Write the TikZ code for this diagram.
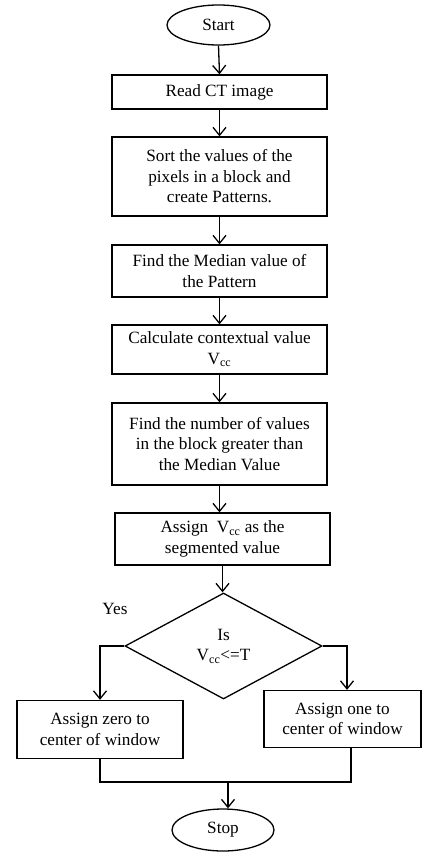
\documentclass[tikz,border=0pt]{standalone}
\usepackage{fontspec}
\setmainfont{Liberation Serif}
\usetikzlibrary{shapes.geometric,arrows.meta}
\begin{document}
\begin{tikzpicture}[x=1pt,y=-1pt,
  every node/.style={font=\fontsize{17.2}{20.5}\selectfont},
  box/.style={draw,line width=1.3pt,rectangle,inner sep=0pt,align=center},
  term/.style={draw,line width=1.3pt,ellipse,inner sep=0pt},
  dec/.style={draw,line width=1.3pt,diamond,inner sep=0pt,align=center},
  arr/.style={-{Straight Barb[length=8pt,width=13pt,line width=1.3pt]},line width=1.3pt},
  ln/.style={line width=1.3pt}]
\useasboundingbox (0,0) rectangle (422,854);
\fill[white] (0,0) rectangle (422,854);
\node[term,minimum width=103pt,minimum height=40pt] (start) at (218.5,25) {Start};
\node[box,minimum width=215pt,minimum height=34pt] (read) at (219.5,92) {Read CT image};
\node[box,minimum width=215pt,minimum height=79pt] (sort) at (219.5,176.5) {Sort the values of the\\pixels in a block and\\create Patterns.};
\node[box,minimum width=215pt,minimum height=52pt] (median) at (219.5,271) {Find the Median value of\\the Pattern};
\node[box,minimum width=215pt,minimum height=49pt] (calc) at (219.5,349.5) {Calculate contextual value\\V\textsubscript{cc}};
\node[box,minimum width=215pt,minimum height=82pt] (count) at (219.5,444) {Find the number of values\\in the block greater than\\the Median Value};
\node[box,minimum width=215pt,minimum height=52pt] (assign) at (222.5,539) {Assign\ \ V\textsubscript{cc} as the\\segmented value};
\node[dec,minimum width=197pt,minimum height=106pt] (test) at (223.5,646) {Is\\V\textsubscript{cc}<=T};
\node (yes) at (115,609) {Yes};
\node[box,minimum width=166pt,minimum height=58pt] (zero) at (100,729.5) {Assign zero to\\center of window};
\node[box,minimum width=157pt,minimum height=57pt] (one) at (342.5,719) {Assign one to\\center of window};
\node[term,minimum width=102pt,minimum height=42pt] (stop) at (223,830) {Stop};
\coordinate (jl) at (100,782);
\coordinate (jr) at (351,782);
\coordinate (jm) at (228,782);
\draw[arr] (start.south) -- (read.north);
\draw[arr] (read.south) -- (sort.north);
\draw[arr] (sort.south) -- (median.north);
\draw[arr] (median.south) -- (calc.north);
\draw[arr] (calc.south) -- (count.north);
\draw[arr] (count.south) -- (count.south |- assign.north);
\draw[arr] (assign.south) -- (assign.south |- test.north);
\draw[arr] (test.west) -| (zero.north);
\draw[arr] (test.east) -| ([xshift=4.5pt]one.north);
\draw[ln] (zero.south) -- (jl) -- (jr) -- (jr |- one.south);
\draw[arr] (jm) -- (jm |- stop.north);
\end{tikzpicture}
\end{document}
